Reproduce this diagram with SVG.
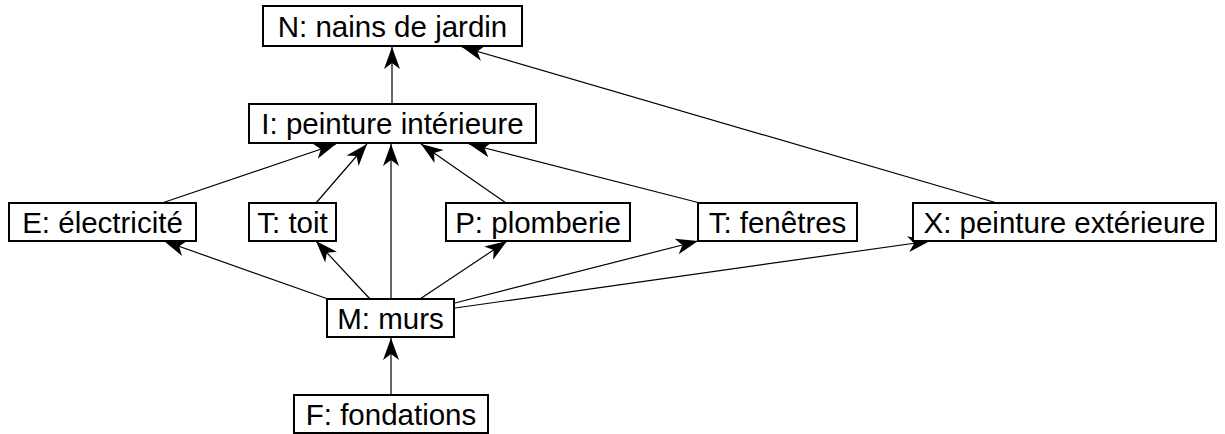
<svg xmlns="http://www.w3.org/2000/svg" width="1225" height="434" viewBox="0 0 1225 434">
<style>
.box{fill:#fff;stroke:#000;stroke-width:2}
.lbl{font-family:"Liberation Sans",Arial,sans-serif;font-size:29.5px;fill:#000;text-anchor:middle}
.edge{stroke:#000;stroke-width:1.2;fill:none;marker-end:url(#arr)}
</style>
<defs>
<marker id="arr" markerUnits="userSpaceOnUse" markerWidth="24" markerHeight="18" refX="22" refY="8" orient="auto" overflow="visible">
<path d="M0,0 L22,8 L0,16 L6,8 Z" fill="#000"/>
</marker>
</defs>
<rect width="1225" height="434" fill="#fff"/>
<g id="connectors">
<line class="edge" x1="392" y1="104" x2="392" y2="47"/>
<line class="edge" x1="997" y1="203" x2="462" y2="47"/>
<line class="edge" x1="162" y1="203" x2="336" y2="144"/>
<line class="edge" x1="316" y1="203" x2="367" y2="144"/>
<line class="edge" x1="391" y1="299" x2="391" y2="144"/>
<line class="edge" x1="506" y1="203" x2="421" y2="144"/>
<line class="edge" x1="700" y1="203" x2="469" y2="144"/>
<line class="edge" x1="328" y1="299" x2="164" y2="241"/>
<line class="edge" x1="370" y1="299" x2="316" y2="241"/>
<line class="edge" x1="420" y1="299" x2="507" y2="241"/>
<line class="edge" x1="455" y1="303" x2="698" y2="241"/>
<line class="edge" x1="455" y1="308" x2="930" y2="241"/>
<line class="edge" x1="391" y1="395" x2="391" y2="338"/>
</g>
<g id="N"><rect class="box" x="263" y="6" width="259" height="40"/><text class="lbl" x="392.5" y="36.5">N: nains de jardin</text></g>
<g id="I"><rect class="box" x="249" y="104" width="287" height="39"/><text class="lbl" x="392.5" y="134">I: peinture intérieure</text></g>
<g id="E"><rect class="box" x="9" y="203" width="187" height="38"/><text class="lbl" x="102.5" y="232.5">E: électricité</text></g>
<g id="Ttoit"><rect class="box" x="249" y="203" width="87" height="38"/><text class="lbl" x="292.5" y="232.5">T: toit</text></g>
<g id="P"><rect class="box" x="446" y="203" width="184" height="38"/><text class="lbl" x="538" y="232.5">P: plomberie</text></g>
<g id="Tfen"><rect class="box" x="698" y="203" width="159" height="38"/><text class="lbl" x="777.5" y="232.5">T: fenêtres</text></g>
<g id="X"><rect class="box" x="913" y="203" width="303" height="38"/><text class="lbl" x="1064.5" y="232.5">X: peinture extérieure</text></g>
<g id="M"><rect class="box" x="327" y="299" width="127" height="38"/><text class="lbl" x="390.5" y="328.5">M: murs</text></g>
<g id="F"><rect class="box" x="294" y="395" width="194" height="38"/><text class="lbl" x="391" y="424.5">F: fondations</text></g>
</svg>
